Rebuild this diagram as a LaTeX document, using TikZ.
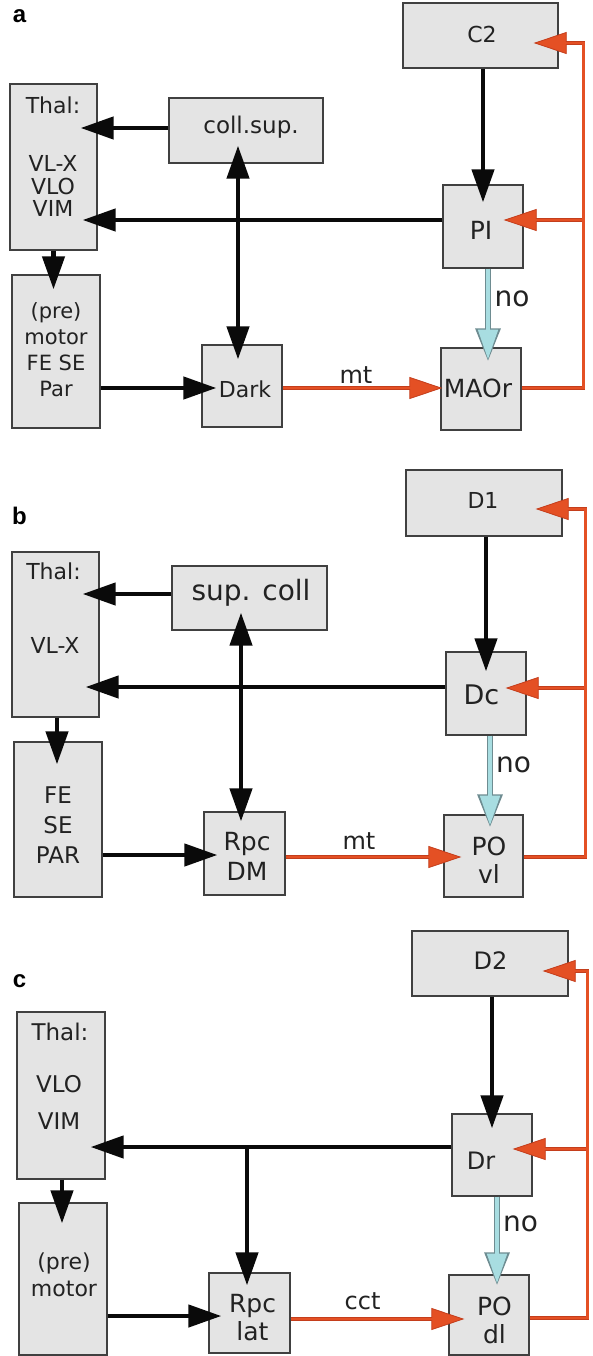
\documentclass[tikz,border=0pt]{standalone}
\usepackage{fontspec}
\setmainfont{DejaVu Sans}
\newfontfamily\labfont{Liberation Sans}
\usetikzlibrary{arrows.meta,calc}
\definecolor{boxfill}{RGB}{228,228,228}
\definecolor{boxedge}{RGB}{64,64,64}
\definecolor{redarr}{RGB}{228,80,36}
\definecolor{reddark}{RGB}{196,62,28}
\definecolor{cyanfill}{RGB}{168,221,225}
\definecolor{cyanedge}{RGB}{110,140,145}
\definecolor{txtc}{RGB}{34,34,34}
\definecolor{blkc}{RGB}{10,10,10}
\begin{document}
\begin{tikzpicture}[x=1pt,y=-1pt,
  box/.style={draw=boxedge, fill=boxfill, line width=1.3pt, inner sep=0pt, rectangle},
  txt/.style={inner sep=0pt, text=txtc, align=center},
  fsz/.style 2 args={font=\fontsize{#1}{#2}\selectfont},
  blk/.style={draw=blkc, line width=4.4pt, -{Triangle[length=33pt,width=22pt]}},
  blkd/.style={draw=blkc, line width=4.4pt, {Triangle[length=33pt,width=22pt]}-{Triangle[length=33pt,width=22pt]}},
  redout/.style={draw=reddark, line width=3.6pt, line join=miter, -{Triangle[length=33pt,width=22pt,fill=redarr,line width=0.8pt]}},
  redin/.style={draw=redarr, line width=2.6pt, line join=miter, shorten >=31pt},
  cyanout/.style={draw=cyanedge, line width=6.2pt, -{Triangle[length=33pt,width=24pt]}},
  cyanin/.style={draw=cyanfill, line width=3.4pt, shorten >=2.2pt, -{Triangle[length=29.5pt,width=19.5pt]}},
  panellab/.style={inner sep=0pt, text=black, font=\labfont\bfseries\fontsize{24}{24}\selectfont}
]
\fill[white] (0,0) rectangle (592,1356);
\useasboundingbox (0,0) rectangle (592,1356);

% ---------------- panel a ----------------
\node[box,minimum width=155pt,minimum height=65pt] (aC2) at (480.5,35.5) {};
\node[box,minimum width=154pt,minimum height=65pt] (aColl) at (246,130.5) {};
\node[box,minimum width=87pt,minimum height=166pt] (aThal) at (53.5,167) {};
\node[box,minimum width=88pt,minimum height=153pt] (aPre) at (56,351.5) {};
\node[box,minimum width=80pt,minimum height=82pt] (aDark) at (242,386) {};
\node[box,minimum width=80pt,minimum height=83pt] (aPI) at (483,226.5) {};
\node[box,minimum width=80pt,minimum height=82pt] (aMAOr) at (481,389) {};

% ---------------- panel b ----------------
\node[box,minimum width=156pt,minimum height=66pt] (bD1) at (484,503) {};
\node[box,minimum width=155pt,minimum height=64pt] (bSup) at (249.5,598) {};
\node[box,minimum width=87pt,minimum height=165pt] (bThal) at (55.5,634.5) {};
\node[box,minimum width=88pt,minimum height=155pt] (bFE) at (58,819.5) {};
\node[box,minimum width=81pt,minimum height=83pt] (bRpc) at (244.5,853.5) {};
\node[box,minimum width=80pt,minimum height=83pt] (bDc) at (486,693.5) {};
\node[box,minimum width=79pt,minimum height=82pt] (bPO) at (483.5,856) {};

% ---------------- panel c ----------------
\node[box,minimum width=156pt,minimum height=65pt] (cD2) at (490,963.5) {};
\node[box,minimum width=88pt,minimum height=167pt] (cThal) at (61,1095.5) {};
\node[box,minimum width=88pt,minimum height=152pt] (cPre) at (63,1279) {};
\node[box,minimum width=81pt,minimum height=80pt] (cRpc) at (249.5,1313) {};
\node[box,minimum width=80pt,minimum height=82pt] (cDr) at (492,1155) {};
\node[box,minimum width=80pt,minimum height=80pt] (cPO) at (489,1315) {};

% ---------------- arrows a ----------------
\draw[blk] ($(aColl.west)+(0,-2.5)$) -- ($(aThal.east|-aColl.west)+(-17,-2.5)$);
\draw[blk] ($(aPI.west)+(0,-6.5)$) -- ($(aThal.east|-aPI.west)+(-15,-6.5)$);
\draw[blk] (aThal.south) -- ($(aThal.south|-aPre.north)+(0,15)$);
\draw[blk] ($(aPre.east|-aDark.west)+(0,2)$) -- ($(aDark.west)+(15,2)$);
\draw[blkd] ($(aColl.south)+(-8,-18)$) -- ($(aColl.south|-aDark.north)+(-8,15)$);
\draw[blk] (aC2.south-|aPI.north) -- ($(aPI.north)+(0,18)$);
\draw[cyanout] ($(aPI.south)+(5,0)$) -- ($(aPI.south|-aMAOr.north)+(5,14)$);
\draw[cyanin] ($(aPI.south)+(5,0)$) -- ($(aPI.south|-aMAOr.north)+(5,14)$);
\coordinate (aJ) at ($(aC2.east|-aPI.east)+(25,-6.5)$);
\draw[redout] ($(aDark.east)+(0,2)$) -- ($(aMAOr.west|-aDark.east)+(2,2)$);
\draw[redout] ($(aMAOr.east)+(0,-1)$) -- ($(aMAOr.east-|aJ)+(0,-1)$) -- ($(aC2.east-|aJ)+(0,7.5)$) -- ($(aC2.east)+(-25,7.5)$);
\draw[redout] (aJ) -- ($(aPI.east)+(-20,-6.5)$);
\draw[redin] ($(aDark.east)+(0,2)$) -- ($(aMAOr.west|-aDark.east)+(2,2)$);
\draw[redin] ($(aMAOr.east)+(0,-1)$) -- ($(aMAOr.east-|aJ)+(0,-1)$) -- ($(aC2.east-|aJ)+(0,7.5)$) -- ($(aC2.east)+(-25,7.5)$);
\draw[redin] (aJ) -- ($(aPI.east)+(-20,-6.5)$);

% ---------------- arrows b ----------------
\draw[blk] ($(bSup.west)+(0,-4)$) -- ($(bThal.east|-bSup.west)+(-17,-4)$);
\draw[blk] ($(bDc.west)+(0,-6.5)$) -- ($(bThal.east|-bDc.west)+(-14,-6.5)$);
\draw[blk] ($(bThal.south)+(1.5,0)$) -- ($(bThal.south|-bFE.north)+(1.5,23)$);
\draw[blk] ($(bFE.east|-bRpc.west)+(0,1.5)$) -- ($(bRpc.west)+(14,1.5)$);
\draw[blkd] ($(bSup.south)+(-8.5,-18)$) -- ($(bSup.south|-bRpc.north)+(-8.5,10)$);
\draw[blk] (bD1.south-|bDc.north) -- ($(bDc.north)+(0,20)$);
\draw[cyanout] ($(bDc.south)+(4,0)$) -- ($(bDc.south|-bPO.north)+(4,13)$);
\draw[cyanin] ($(bDc.south)+(4,0)$) -- ($(bDc.south|-bPO.north)+(4,13)$);
\coordinate (bJ) at ($(bD1.east|-bDc.east)+(23,-5.5)$);
\draw[redout] ($(bRpc.east)+(0,3.5)$) -- ($(bPO.west|-bRpc.east)+(18,3.5)$);
\draw[redout] ($(bPO.east)+(0,1)$) -- ($(bPO.east-|bJ)+(0,1)$) -- ($(bD1.east-|bJ)+(0,6)$) -- ($(bD1.east)+(-27,6)$);
\draw[redout] (bJ) -- ($(bDc.east)+(-21,-5.5)$);
\draw[redin] ($(bRpc.east)+(0,3.5)$) -- ($(bPO.west|-bRpc.east)+(18,3.5)$);
\draw[redin] ($(bPO.east)+(0,1)$) -- ($(bPO.east-|bJ)+(0,1)$) -- ($(bD1.east-|bJ)+(0,6)$) -- ($(bD1.east)+(-27,6)$);
\draw[redin] (bJ) -- ($(bDc.east)+(-21,-5.5)$);

% ---------------- arrows c ----------------
\draw[blk] ($(cDr.west)+(0,-8)$) -- ($(cThal.east|-cDr.west)+(-15,-8)$);
\coordinate (cK) at ($(cRpc.north|-cDr.west)+(-2.5,-8)$);
\draw[blk] (cK) -- ($(cRpc.north)+(-2.5,13)$);
\draw[blk] ($(cThal.south)+(1,0)$) -- ($(cThal.south|-cPre.north)+(1,21)$);
\draw[blk] ($(cPre.east|-cRpc.west)+(0,3)$) -- ($(cRpc.west)+(13,3)$);
\draw[blk] (cD2.south-|cDr.north) -- ($(cDr.north)+(0,15)$);
\draw[cyanout] ($(cDr.south)+(5,0)$) -- ($(cDr.south|-cPO.north)+(5,11)$);
\draw[cyanin] ($(cDr.south)+(5,0)$) -- ($(cDr.south|-cPO.north)+(5,11)$);
\coordinate (cJ) at ($(cD2.east|-cDr.east)+(19,-6)$);
\draw[redout] ($(cRpc.east)+(0,6)$) -- ($(cPO.west|-cRpc.east)+(16,6)$);
\draw[redout] ($(cPO.east)+(0,3)$) -- ($(cPO.east-|cJ)+(0,3)$) -- ($(cD2.east-|cJ)+(0,7.5)$) -- ($(cD2.east)+(-26,7.5)$);
\draw[redout] (cJ) -- ($(cDr.east)+(-20,-6)$);
\draw[redin] ($(cRpc.east)+(0,6)$) -- ($(cPO.west|-cRpc.east)+(16,6)$);
\draw[redin] ($(cPO.east)+(0,3)$) -- ($(cPO.east-|cJ)+(0,3)$) -- ($(cD2.east-|cJ)+(0,7.5)$) -- ($(cD2.east)+(-26,7.5)$);
\draw[redin] (cJ) -- ($(cDr.east)+(-20,-6)$);

% ---------------- texts ----------------
\node[panellab] (la) at (19.5,16) {a};
\node[panellab] (lb) at (19.5,516) {b};
\node[panellab] (lc) at (19.5,981) {c};

\node[txt,fsz={22}{22}] (aC2t) at (482,34.5) {C2};
\node[txt,fsz={23}{23}] (aCollt) at (251,127) {coll.sup.};
\node[txt,fsz={22}{22}] (aThalt) at (53,105) {Thal:};
\node[txt,fsz={22}{22.5}] (aThalv) at (53,186) {VL-X\\VLO\\VIM};
\node[txt,fsz={21}{26}] (aPret) at (56,349.5) {(pre)\\motor\\FE SE\\Par};
\node[txt,fsz={22}{22}] (aDarkt) at (245,389.5) {Dark};
\node[txt,fsz={25}{25}] (aPIt) at (481,230.5) {PI};
\node[txt,fsz={25}{25}] (aMAOrt) at (478,388) {MAOr};
\node[txt,fsz={28}{28}] (aNo) at (512,299) {no};
\node[txt,fsz={24}{24}] (aMt) at (356,375) {mt};

\node[txt,fsz={22}{22}] (bD1t) at (483,500.5) {D1};
\node[txt,fsz={28}{28}] (bSupt) at (251,592.5) {sup. coll};
\node[txt,fsz={22}{22}] (bThalt) at (53.5,571.5) {Thal:};
\node[txt,fsz={22}{22}] (bThalv) at (55,645) {VL-X};
\node[txt,fsz={23}{30}] (bFEt) at (58,825.5) {FE\\SE\\PAR};
\node[txt,fsz={25}{30}] (bRpct) at (247,856.5) {Rpc\\DM};
\node[txt,fsz={27}{27}] (bDct) at (481.5,695) {Dc};
\node[txt,fsz={28}{28}] (bNo) at (513.5,765) {no};
\node[txt,fsz={25}{28}] (bPOt) at (489,860.5) {PO\\vl};
\node[txt,fsz={24}{24}] (bMt) at (359,841.5) {mt};

\node[txt,fsz={24}{24}] (cD2t) at (490.5,961) {D2};
\node[txt,fsz={23}{23}] (cThalt) at (60,1031.5) {Thal:};
\node[txt,fsz={23}{37}] (cThalv) at (59,1102) {VLO\\VIM};
\node[txt,fsz={22}{27}] (cPret) at (64,1274.5) {(pre)\\motor};
\node[txt,fsz={25}{28}] (cRpct) at (252.5,1317.5) {Rpc\\lat};
\node[txt,fsz={24}{24}] (cDrt) at (481,1160.5) {Dr};
\node[txt,fsz={28}{28}] (cNo) at (520.5,1223.5) {no};
\node[txt,fsz={25}{28}] (cPOt) at (494.5,1320.5) {PO\\dl};
\node[txt,fsz={24}{24}] (cCct) at (362.5,1301) {cct};
\end{tikzpicture}
\end{document}
